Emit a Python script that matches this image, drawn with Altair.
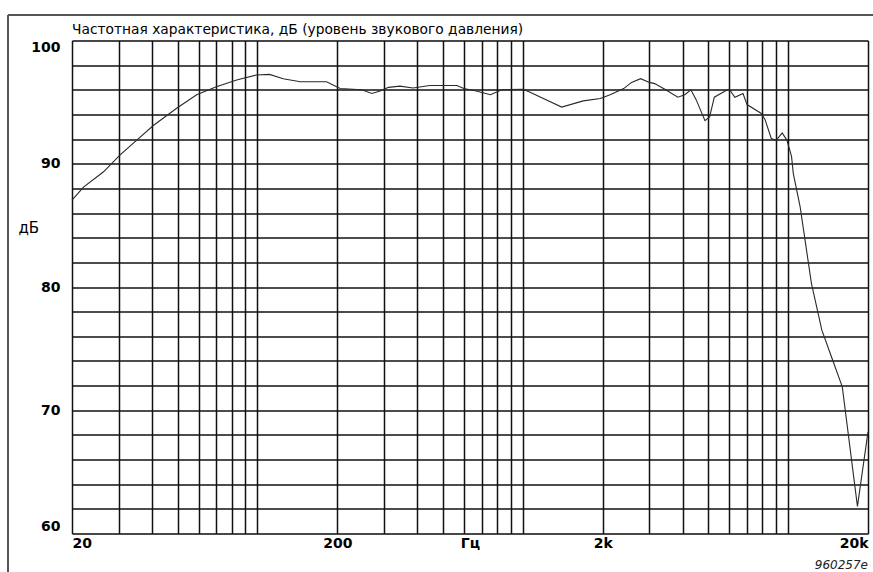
import altair as alt
import pandas as pd

# Frequency response (Hz, dB SPL)
freq = [20, 22.1, 26.3, 30.3, 35, 40.5, 49.6, 59, 70, 83.5, 99, 111, 125, 145, 182,
        205, 247, 270, 290, 312, 344, 386, 446, 564, 600, 668, 755, 834, 1000, 1066,
        1195, 1402, 1690, 1960, 2134, 2400, 2570, 2780, 3000, 3140, 3430, 3840, 4080,
        4300, 4500, 4860, 5060, 5270, 5790, 6000, 6300, 6760, 7000, 7900, 8180, 8640,
        9010, 9500, 9900, 10300, 10460, 11100, 12240, 13400, 14700, 16000, 18250, 20000]
db = [87.05, 88.1, 89.35, 90.7, 91.9, 93.1, 94.5, 95.6, 96.25, 96.8, 97.2, 97.25, 96.9, 96.65, 96.65,
      96.1, 96.0, 95.7, 95.9, 96.2, 96.3, 96.15, 96.35, 96.35, 96.1, 95.9, 95.6, 96.0, 96.05, 95.8,
      95.3, 94.6, 95.1, 95.3, 95.6, 96.1, 96.6, 96.9, 96.6, 96.5, 96.05, 95.4, 95.6,
      96.0, 95.2, 93.5, 93.8, 95.4, 95.9, 96.05, 95.4, 95.7, 94.8, 94.1, 93.6, 92.05,
      91.9, 92.5, 91.9, 90.6, 89.2, 86.5, 80.3, 76.5, 74.1, 71.9, 62.2, 68.25]

x_grid = [20, 30, 40, 50, 60, 70, 80, 90, 100, 200, 300, 400, 500, 600, 700, 800, 900,
          1000, 2000, 3000, 4000, 5000, 6000, 7000, 8000, 9000, 10000, 20000]
x_labels = {20: "20", 200: "200", 2000: "2k", 20000: "20k"}
y_grid = list(range(60, 101, 2))

title_text = "Частотная характеристика, дБ (уровень звукового давления)"
y_title = "дБ"
x_title = "Гц"
footnote = "960257e"

W, H = 796, 493
FONT = "DejaVu Sans"

df = pd.DataFrame({"f": freq, "db": db})

label_expr = " : ".join(
    [f"datum.value == {k} ? '{v}'" for k, v in x_labels.items()]) + " : ''"

line = alt.Chart(df).mark_line(color="#2a2a2a", strokeWidth=1.1).encode(
    x=alt.X("f:Q",
            scale=alt.Scale(type="log", domain=[20, 20000], nice=False),
            axis=alt.Axis(values=x_grid, labelExpr=label_expr, title=x_title,
                          labelFlush=True, labelOverlap=False, ticks=False, domain=False,
                          labelFont=FONT, labelFontSize=14, labelFontWeight="bold",
                          labelColor="black", labelPadding=3,
                          titleFont=FONT, titleFontSize=14, titleFontWeight="bold",
                          titleColor="black", titleY=3, titleBaseline="top",
                          gridColor="#111111", gridWidth=1.5, gridOpacity=1)),
    y=alt.Y("db:Q",
            scale=alt.Scale(domain=[60, 100], nice=False, zero=False),
            axis=alt.Axis(values=y_grid,
                          labelExpr="datum.value % 10 == 0 ? datum.label : ''",
                          title=y_title, labelFlush=True, labelOverlap=False,
                          ticks=False, domain=False,
                          labelFont=FONT, labelFontSize=14, labelFontWeight="bold",
                          labelColor="black", labelPadding=12,
                          titleFont=FONT, titleFontSize=15, titleFontWeight="normal",
                          titleColor="black", titleAngle=0, titleAlign="left",
                          titleBaseline="middle", titleX=-54, titleY=187,
                          gridColor="#111111", gridWidth=1.5, gridOpacity=1)),
)

one = alt.Data(values=[{}])
frame_v = alt.Chart(one).mark_rule(color="#555555", strokeWidth=2).encode(
    x=alt.value(-64), y=alt.value(-25.5), y2=alt.value(H + 45))
frame_h = alt.Chart(one).mark_rule(color="#555555", strokeWidth=2).encode(
    x=alt.value(-64), x2=alt.value(W + 10), y=alt.value(-25.5))
head = alt.Chart(one).mark_text(text=title_text, font=FONT, fontSize=13.8,
                                 align="left", baseline="alphabetic", color="black").encode(
    x=alt.value(0), y=alt.value(-6.5))
foot = alt.Chart(one).mark_text(text=footnote, font=FONT, fontSize=12, fontStyle="italic",
                                 align="right", baseline="middle", color="#222222").encode(
    x=alt.value(W), y=alt.value(H + 31.5))

chart = alt.layer(line, frame_v, frame_h, head, foot).properties(
    width=W, height=H,
    autosize=alt.AutoSizeParams(type="none"),
    padding={"left": 72, "top": 40.5, "right": 5, "bottom": 38.5},
).configure_view(stroke="#111111", strokeWidth=1.5).configure(background="white")

chart.save("out.html", embed_options={"renderer": "svg", "actions": False})
